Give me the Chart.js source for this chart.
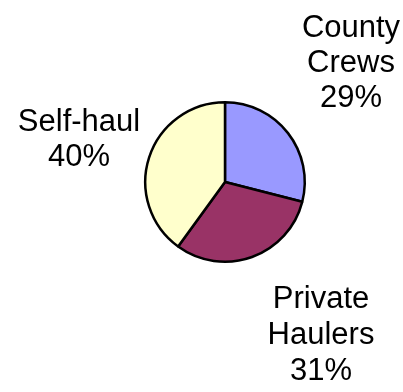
<!DOCTYPE html>
<html>
<head>
<meta charset="utf-8">
<script src="https://cdn.jsdelivr.net/npm/chart.js@4/dist/chart.umd.min.js"></script>
<style>
html,body{margin:0;padding:0;background:#fff;}
#wrap{position:relative;width:403px;height:392px;}
</style>
</head>
<body>
<div id="wrap"><canvas id="c" width="403" height="392"></canvas></div>
<script>
// ---- data ----
const categories = ["County Crews", "Private Haulers", "Self-haul"];
const shares = [29, 31, 40];
const sliceColors = ["#9999FF", "#993366", "#FFFFCC"];

// ---- label layout (center x, first line middle y, line gap; px) ----
const labelAnchors = [
  {x: 351, y: 28, gap: 35},
  {x: 321, y: 299, gap: 36},
  {x: 79, y: 122, gap: 35}
];
const labelFont = '31px "Liberation Sans", Arial, sans-serif';

const labelPlugin = {
  id: 'outsideLabels',
  afterDraw(chart) {
    const ctx = chart.ctx;
    const data = chart.data.datasets[0].data;
    const total = data.reduce((a, b) => a + b, 0);
    ctx.save();
    ctx.font = labelFont;
    ctx.fillStyle = '#000';
    ctx.textAlign = 'center';
    ctx.textBaseline = 'middle';
    chart.data.labels.forEach((lab, i) => {
      const lines = lab.split(' ').concat([Math.round(data[i] / total * 100) + '%']);
      const a = labelAnchors[i];
      lines.forEach((ln, k) => ctx.fillText(ln, a.x, a.y + k * a.gap));
    });
    ctx.restore();
  }
};

new Chart(document.getElementById('c'), {
  type: 'pie',
  data: {
    labels: categories,
    datasets: [{
      data: shares,
      backgroundColor: sliceColors,
      borderColor: '#000',
      borderWidth: 2.5
    }]
  },
  options: {
    responsive: false,
    animation: false,
    layout: {padding: {left: 144, right: 97, top: 101, bottom: 129}},
    plugins: {legend: {display: false}, tooltip: {enabled: false}}
  },
  plugins: [labelPlugin]
});
</script>
</body>
</html>
